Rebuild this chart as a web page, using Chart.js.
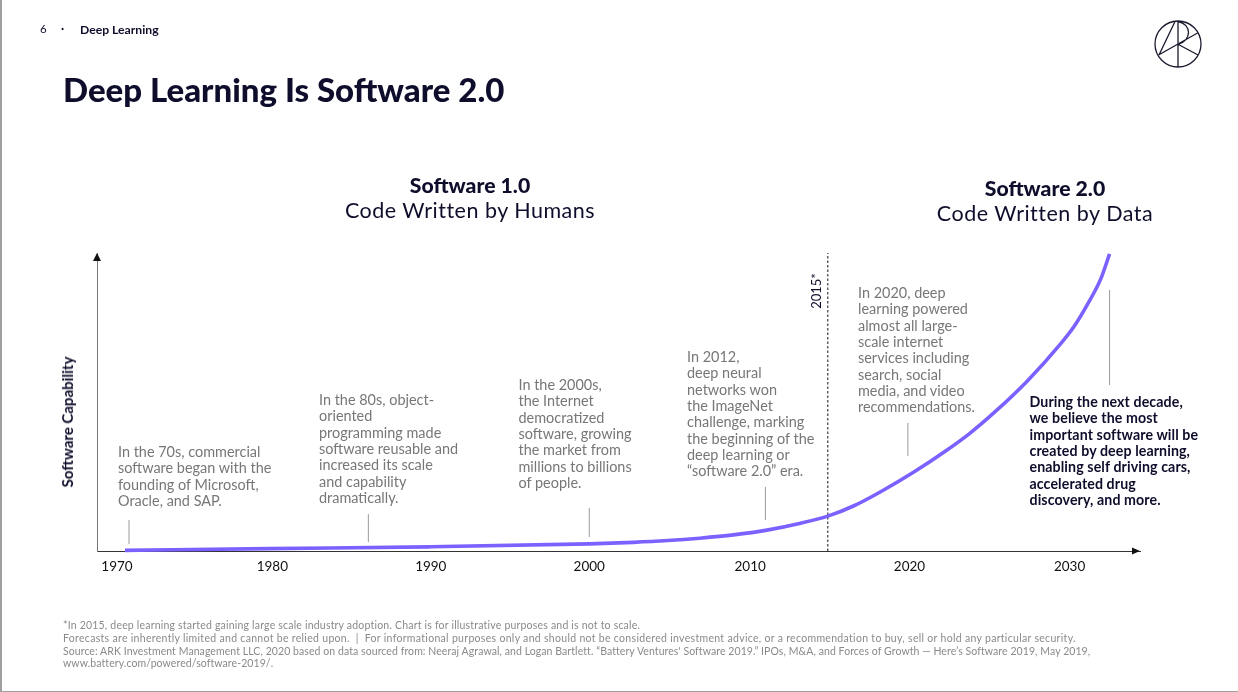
<!DOCTYPE html>
<html><head><meta charset="utf-8">
<script src="https://cdn.jsdelivr.net/npm/chart.js@4"></script>
<style>
html,body{margin:0;padding:0;background:#fff;}
#slide{position:relative;width:1238px;height:692px;overflow:hidden;font-family:Lato,sans-serif;color:#0e0e2c;background:#fff;}
#chartBox{position:absolute;left:0;top:0;width:1238px;height:692px;}
.t{position:absolute;white-space:nowrap;}
.note{font-size:14.45px;line-height:16.33px;color:#777;}
.bold{font-weight:700;color:#0e0e2c;font-size:14.2px;letter-spacing:.1px;}
.head{line-height:24px;text-align:center;transform:translateX(-50%);}
.head b{font-weight:900;font-size:21.2px;}
.head span{display:block;margin-top:-1.5px;font-size:21.5px;letter-spacing:.5px;}
.foot{left:63px;top:619px;font-size:10.5px;line-height:12.8px;color:#8a8a8a;}
.frameL{position:absolute;left:0;top:0;width:1.5px;height:692px;background:#a0a0a0;}
.frameB{position:absolute;left:0;top:690.5px;width:1238px;height:1.5px;background:#a0a0a0;}
</style></head>
<body>
<div id="slide">
<div id="chartBox"><canvas id="c" width="1238" height="692"></canvas></div>
<div class="frameL"></div><div class="frameB"></div>
<div class="t" style="left:40px;top:22px;font-size:11.5px;">6</div>
<div class="t" style="left:61px;top:21px;font-size:11.5px;font-weight:700;">·</div>
<div class="t" style="left:80px;top:22px;font-size:12.2px;font-weight:700;">Deep Learning</div>
<div class="t" style="left:63px;top:69px;font-size:33px;font-weight:900;line-height:40px;">Deep Learning Is Software 2.0</div>
<svg style="position:absolute;left:1150px;top:16px" width="56" height="56" viewBox="1150 16 56 56" fill="none" stroke="#1a1a2e" stroke-width="1.3">
<circle cx="1178" cy="44" r="23"/><path d="M1178 21V67M1175 21.5L1159 55M1198 32.7L1158.5 55M1178 44.3L1198 55M1178 21.5C1192 24 1192 41 1178 44.3"/></svg>
<div class="t head" style="left:470px;top:173px;"><b>Software 1.0</b><span>Code Written by Humans</span></div>
<div class="t head" style="left:1045px;top:176px;"><b>Software 2.0</b><span>Code Written by Data</span></div>
<div class="t note" style="left:118px;top:444px;">In the 70s, commercial<br>software began with the<br>founding of Microsoft,<br>Oracle, and SAP.</div>
<div class="t note" style="left:319px;top:392px;">In the 80s, object-<br>oriented<br>programming made<br>software reusable and<br>increased its scale<br>and capability<br>dramatically.</div>
<div class="t note" style="left:518.5px;top:377px;">In the 2000s,<br>the Internet<br>democratized<br>software, growing<br>the market from<br>millions to billions<br>of people.</div>
<div class="t note" style="left:687px;top:349px;">In 2012,<br>deep neural<br>networks won<br>the ImageNet<br>challenge, marking<br>the beginning of the<br>deep learning or<br>“software 2.0” era.</div>
<div class="t note" style="left:858px;top:285px;">In 2020, deep<br>learning powered<br>almost all large-<br>scale internet<br>services including<br>search, social<br>media, and video<br>recommendations.</div>
<div class="t note bold" style="left:1029.5px;top:394px;">During the next decade,<br>we believe the most<br>important software will be<br>created by deep learning,<br>enabling self driving cars,<br>accelerated drug<br>discovery, and more.</div>
<div class="t" style="left:816px;top:291px;font-size:13px;line-height:16px;transform:translate(-50%,-50%) rotate(-90deg);">2015*</div>
<div class="t" style="left:67px;top:422px;font-size:15px;font-weight:700;line-height:16px;transform:translate(-50%,-50%) rotate(-90deg);">Software Capability</div>
<div class="t foot"><span style="letter-spacing:.2px">*In 2015, deep learning started gaining large scale industry adoption. Chart is for illustrative purposes and is not to scale.</span><br><span style="letter-spacing:.31px">Forecasts are inherently limited and cannot be relied upon. &nbsp;|&nbsp; For informational purposes only and should not be considered investment advice, or a recommendation to buy, sell or hold any particular security.</span><br><span style="letter-spacing:.075px">Source: ARK Investment Management LLC, 2020 based on data sourced from: Neeraj Agrawal, and Logan Bartlett. “Battery Ventures' Software 2019.” IPOs, M&amp;A, and Forces of Growth — Here’s Software 2019, May 2019,</span><br><span style="letter-spacing:.08px">www.battery.com/powered/software-2019/.</span></div>
</div>
<script>
// Curve (illustrative capability index, 0-100)
const years      = [1971, 1980, 1990, 2000, 2002.75, 2004.9, 2006.9, 2009, 2011.1, 2013.2, 2014.9, 2016.5, 2018.2, 2020.3, 2022.35, 2023.75, 2025.3, 2027.35, 2029.45, 2030.3, 2031.1, 2031.95, 2032.5];
const capability = [0.2, 0.8, 1.4, 2.4, 2.9, 3.5, 4.3, 5.4, 7.0, 9.3, 11.7, 15.1, 19.9, 26.6, 33.9, 39.4, 46.5, 57.0, 69.6, 75.5, 82.6, 91.3, 99.7];
// Grey leader lines linking each note to the curve
const leaderYears = [1971.25, 1986.2, 2000, 2011, 2019.9, 2032.5];
const leaderLow   = [2.3, 3, 4.7, 10.4, 31.9, 55.7];
const leaderHigh  = [10.4, 12.4, 14.4, 21.5, 43, 87.6];
// 2015 marker
const markerYear = [2014.9];
const markerSpan = [0, 100];
// Axis ticks (labels sit slightly off their nominal years in the original)
const tickPositions = [1970.5, 1980.2, 1990.1, 2000, 2010.05, 2020, 2030];
const tickLabels    = ['1970', '1980', '1990', '2000', '2010', '2020', '2030'];

const pairs = (xs, ys) => xs.map((x, i) => ({x, y: ys[i]}));
const leaders = leaderYears.map((yr, i) => ({
  data: [{x: yr, y: leaderLow[i]}, {x: yr, y: leaderHigh[i]}],
  showLine: true, borderColor: '#9a9a9a', borderWidth: 1, pointRadius: 0, order: 3
}));

const arrows = {
  id: 'arrows',
  afterDraw(chart) {
    const {ctx, chartArea: a} = chart;
    ctx.save();
    ctx.fillStyle = '#111';
    ctx.beginPath(); ctx.moveTo(a.left, a.top); ctx.lineTo(a.left - 4, a.top + 8); ctx.lineTo(a.left + 4, a.top + 8); ctx.fill();
    ctx.beginPath(); ctx.moveTo(a.right, a.bottom); ctx.lineTo(a.right - 8, a.bottom - 3.5); ctx.lineTo(a.right - 8, a.bottom + 3.5); ctx.fill();
    ctx.restore();
  }
};

new Chart(document.getElementById('c'), {
  type: 'scatter',
  data: {datasets: [
    {label: 'Software capability', data: pairs(years, capability), showLine: true, borderColor: '#7b61ff', borderWidth: 3.6,
     pointRadius: 0, cubicInterpolationMode: 'monotone', clip: false, order: 1},
    {label: '2015', data: markerSpan.map(y => ({x: markerYear[0], y})), showLine: true, borderColor: '#111', borderWidth: 1,
     borderDash: [2.5, 2], pointRadius: 0, order: 2},
    ...leaders
  ]},
  plugins: [arrows],
  options: {
    responsive: false, animation: false, devicePixelRatio: 1,
    layout: {padding: {left: 97, right: 98, top: 253, bottom: 111}},
    plugins: {legend: {display: false}, tooltip: {enabled: false}, title: {display: false}},
    scales: {
      x: {type: 'linear', min: 1969.25, max: 2034.4,
        afterBuildTicks: s => { s.ticks = tickPositions.map(value => ({value})); },
        afterFit: s => { s.height = 30; },
        grid: {display: false}, border: {color: '#333', width: 1},
        ticks: {color: '#111', padding: 0, maxRotation: 0, autoSkip: false, font: {family: 'Lato', size: 13.5},
          callback: (v, i) => tickLabels[i]}},
      y: {type: 'linear', min: 0, max: 100, afterFit: s => { s.width = 0; },
        grid: {display: false}, border: {color: '#777', width: 1}, ticks: {display: false}}
    }
  }
});
</script>
</body></html>
